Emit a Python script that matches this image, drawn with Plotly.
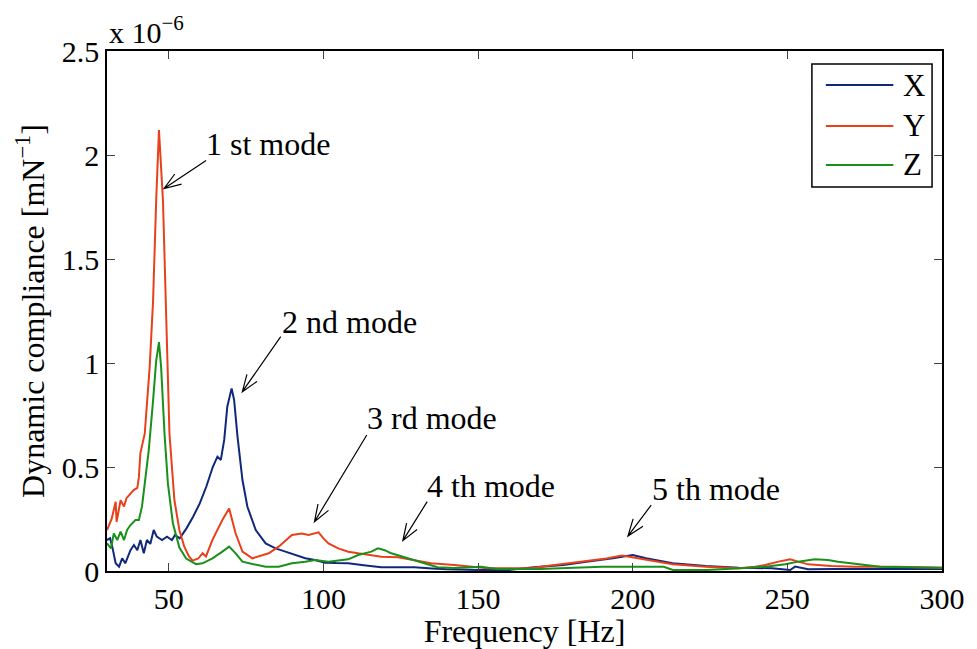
import math
import plotly.graph_objects as go

# ---------------- data (values in units of 1e-6 mN^-1) ----------------
freq_x = [30, 31, 31.7, 32.8, 33.9, 34.9, 35.9, 37.6, 38.7, 39.8, 40.8, 41.9, 42.9, 44.0, 45.1,
          46.1, 47.8, 49.4, 51.0, 52.0, 53.5, 55.7, 57.8, 60.0, 62.1, 64.2, 65.7, 66.8, 67.9,
          68.9, 70.3, 71.1, 72.2, 73.8, 75.4, 78.1, 81.3, 84.5, 87.7, 90.9, 94.1, 97.3, 100.5,
          104, 108, 113, 118.7, 124, 129.4, 135, 140, 150, 160, 168, 177.6, 185, 193.6, 200,
          204.3, 212.9, 223.6, 234.3, 245, 250.9, 252.5, 256.7, 265, 280, 300]
comp_x = [0.149, 0.157, 0.117, 0.037, 0.021, 0.061, 0.037, 0.10, 0.125, 0.10, 0.149, 0.085, 0.149,
          0.13, 0.197, 0.165, 0.149, 0.165, 0.149, 0.173, 0.157, 0.205, 0.26, 0.325, 0.405, 0.50,
          0.55, 0.534, 0.63, 0.79, 0.878, 0.822, 0.646, 0.4375, 0.309, 0.197, 0.133, 0.109, 0.093,
          0.077, 0.061, 0.053, 0.040, 0.038, 0.037, 0.028, 0.018, 0.018, 0.018, 0.012, 0.008,
          0.005, 0.005, 0.018, 0.029, 0.045, 0.061, 0.077, 0.061, 0.037, 0.024, 0.016, 0.013,
          0.005, 0.021, 0.008, 0.01, 0.01, 0.01]

freq_y = [30, 31.5, 32.8, 33.1, 34.4, 35.5, 36.3, 37.1, 38.7, 39.8, 40.3, 40.8, 41.1, 42.2, 43.8,
          44.9, 45.9, 46.8, 48.1, 49.2, 50.2, 51.8, 53.4, 55.0, 56.5, 57.7, 59.5, 60.9, 62.0, 64.1,
          67.3, 69.5, 71.6, 73.8, 77.0, 82.3, 85.5, 89.8, 93.0, 95.2, 98.4, 100, 101.6, 104.8, 108,
          111.2, 118.7, 124.1, 129.4, 134.8, 142.3, 150, 153, 160, 167, 172.2, 182.9, 191.5, 196.5,
          200, 204, 207.5, 212.9, 223.6, 234.3, 239.6, 242.8, 247.1, 250.9, 253.5, 256.7, 264.2,
          271.7, 285.5, 300]
comp_y = [0.197, 0.25, 0.333, 0.237, 0.34, 0.31, 0.35, 0.365, 0.39, 0.40, 0.45, 0.567, 0.59, 0.66,
          0.98, 1.30, 1.78, 2.12, 1.78, 1.14, 0.66, 0.34, 0.197, 0.117, 0.07, 0.05, 0.06, 0.085,
          0.07, 0.15, 0.245, 0.30, 0.18, 0.093, 0.061, 0.085, 0.117, 0.173, 0.18, 0.173, 0.186,
          0.157, 0.133, 0.109, 0.093, 0.085, 0.069, 0.066, 0.053, 0.037, 0.029, 0.02, 0.013, 0.013,
          0.013, 0.024, 0.045, 0.06, 0.075, 0.066, 0.055, 0.045, 0.032, 0.021, 0.013, 0.021, 0.029,
          0.045, 0.056, 0.045, 0.032, 0.024, 0.021, 0.021, 0.016]

freq_z = [30, 31.3, 32.2, 33.3, 34.4, 35.5, 36.5, 37.6, 39.2, 40.3, 41.3, 42.4, 43.5, 44.9, 45.9,
          46.8, 47.5, 48.6, 49.7, 51.3, 53.4, 55.6, 58.8, 60.9, 64.1, 67.3, 69.5, 71.6, 73.8, 77,
          81.3, 85.5, 89.8, 94.1, 97.3, 101.6, 108, 111.2, 115.5, 117.6, 119.8, 121.9, 126.2,
          131.5, 136.9, 142.3, 151, 156, 170, 190, 200, 210, 213, 224, 235, 242.8, 249.3, 253.5,
          258.9, 263.1, 266.4, 270.6, 274.9, 280, 300]
comp_z = [0.133, 0.109, 0.181, 0.149, 0.189, 0.149, 0.197, 0.221, 0.245, 0.245, 0.309, 0.4375,
          0.58, 0.82, 1.01, 1.10, 0.98, 0.66, 0.42, 0.229, 0.113, 0.06, 0.033, 0.037, 0.061, 0.093,
          0.117, 0.085, 0.045, 0.034, 0.021, 0.021, 0.037, 0.045, 0.053, 0.045, 0.056, 0.077,
          0.093, 0.109, 0.10, 0.085, 0.066, 0.040, 0.018, 0.015, 0.02, 0.01, 0.01, 0.02, 0.021,
          0.02, 0.005, 0.005, 0.013, 0.021, 0.032, 0.045, 0.056, 0.053, 0.045, 0.037, 0.029,
          0.021, 0.016]

series_names = ["X", "Y", "Z"]
series_colors = ["#10287A", "#E8401A", "#18901A"]

x_ticks = [50, 100, 150, 200, 250, 300]
y_ticks = [0, 0.5, 1, 1.5, 2, 2.5]
y_tick_text = ["0", "0.5", "1", "1.5", "2", "2.5"]

# annotations: label, text position (freq, value), arrow tip (freq, value), tail offset px (dx, dy up)
mode_labels = ["1 st mode", "2 nd mode", "3 rd mode", "4 th mode", "5 th mode"]
label_pos = [(82.0, 2.053), (108.3, 1.197), (135.0, 0.736), (154.2, 0.409), (226.8, 0.394)]
arrow_tip = [(48.46, 1.839), (73.76, 0.862), (97.09, 0.237), (125.67, 0.146), (198.44, 0.168)]
arrow_tail = [(42, 28), (38.4, 55), (52.3, 86.7), (24.3, 39), (23.3, 31)]

FONT = "Liberation Serif"
TXT = 32
TICK = 30

fig = go.Figure()
for f, c, n, col in zip([freq_x, freq_y, freq_z], [comp_x, comp_y, comp_z], series_names, series_colors):
    fig.add_trace(go.Scatter(x=f, y=c, mode="lines", name=n, showlegend=False,
                             line=dict(color=col, width=2)))

shapes = []
annotations = []
for lab, (tx, ty), (px, py), (dx, dy) in zip(mode_labels, label_pos, arrow_tip, arrow_tail):
    annotations.append(dict(x=tx, y=ty, xref="x", yref="y", text=lab, showarrow=False,
                            font=dict(family=FONT, size=TXT, color="black")))
    L = math.hypot(dx, dy)
    ux, uy = dx / L, dy / L
    wl, ang = 18, math.radians(20)
    w1 = (wl * (ux * math.cos(ang) - uy * math.sin(ang)), wl * (ux * math.sin(ang) + uy * math.cos(ang)))
    w2 = (wl * (ux * math.cos(-ang) - uy * math.sin(-ang)), wl * (ux * math.sin(-ang) + uy * math.cos(-ang)))
    path = (f"M{dx:.1f},{dy:.1f} L0,0 M{w1[0]:.1f},{w1[1]:.1f} L0,0 L{w2[0]:.1f},{w2[1]:.1f}")
    shapes.append(dict(type="path", xref="x", yref="y", xsizemode="pixel", ysizemode="pixel",
                       xanchor=px, yanchor=py, path=path, line=dict(color="black", width=1.2)))

# custom legend (MATLAB style)
shapes.append(dict(type="rect", xref="paper", yref="paper", x0=0.8442, x1=0.9881, y0=0.7385, y1=0.975,
                   line=dict(color="black", width=1.5), fillcolor="white", layer="above"))
for i, (n, col) in enumerate(zip(series_names, series_colors)):
    yy = [0.9346, 0.8558, 0.7808][i]
    shapes.append(dict(type="line", xref="paper", yref="paper", x0=0.8609, x1=0.9417, y0=yy, y1=yy,
                       line=dict(color=col, width=2), layer="above"))
    annotations.append(dict(x=0.9513, y=yy, xref="paper", yref="paper", text=n, showarrow=False,
                            xanchor="left", yanchor="middle",
                            font=dict(family=FONT, size=31, color="black")))

annotations.append(dict(x=0, y=1, xref="paper", yref="paper", text="x 10<sup>\u22126</sup>",
                        showarrow=False, xanchor="left", yanchor="bottom", yshift=0,
                        font=dict(family=FONT, size=TICK, color="black")))

fig.update_layout(
    width=977, height=649,
    margin=dict(l=107, r=29, t=51, b=78),
    paper_bgcolor="white", plot_bgcolor="white",
    font=dict(family=FONT, size=TICK, color="black"),
    shapes=shapes, annotations=annotations,
)
fig.update_xaxes(range=[30, 300], tickvals=x_ticks, ticks="inside", ticklen=8, tickwidth=1,
                 showline=True, linecolor="black", linewidth=1.5, mirror="ticks",
                 showgrid=False, zeroline=False,
                 title=dict(text="Frequency [Hz]", standoff=0, font=dict(family=FONT, size=TXT)),
                 tickfont=dict(family=FONT, size=TICK))
fig.update_yaxes(range=[0, 2.5], tickvals=y_ticks, ticktext=y_tick_text,
                 ticks="inside", ticklen=8, tickwidth=1,
                 showline=True, linecolor="black", linewidth=1.5, mirror="ticks",
                 showgrid=False, zeroline=False,
                 title=dict(text="Dynamic compliance [mN<sup>\u22121</sup>]", standoff=8,
                            font=dict(family=FONT, size=TXT)),
                 tickfont=dict(family=FONT, size=TICK))

fig.write_html("out.html")
